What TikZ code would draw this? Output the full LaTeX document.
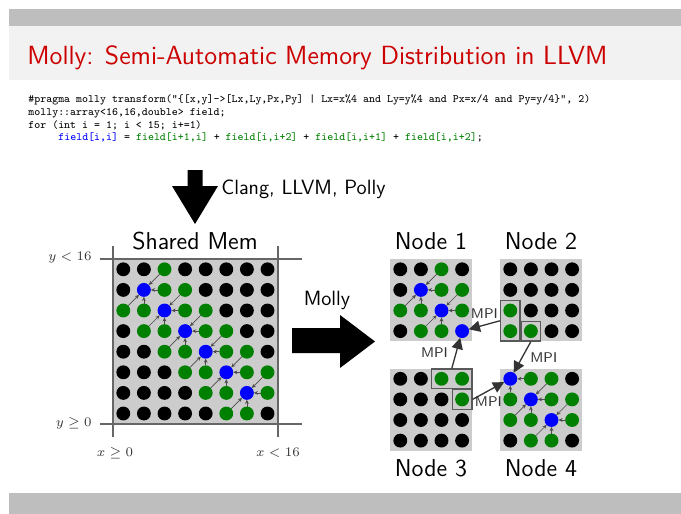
\documentclass[tikz,border=0pt]{standalone}
\usepackage{tikz}
\usetikzlibrary{arrows.meta,fit,positioning}
\definecolor{dotk}{RGB}{0,0,0}
\definecolor{dotg}{RGB}{0,128,0}
\definecolor{dotb}{RGB}{0,0,255}
\definecolor{titlered}{RGB}{204,0,0}
\definecolor{bargray}{RGB}{190,190,190}
\definecolor{bandgray}{RGB}{242,242,242}
\definecolor{cellgray}{RGB}{204,204,204}
\tikzset{
  dot/.style={circle,inner sep=0pt,outer sep=0pt,minimum size=7.4pt},
  stencil/.style={-{Stealth[length=2.2pt,width=2pt]},black!70,line width=0.35pt},
  axis/.style={black!60,line width=0.8pt},
  axlabel/.style={font=\fontsize{7.5}{9}\selectfont,text=black!80,inner sep=0pt},
  mpibox/.style={draw=black!65,line width=0.7pt,inner sep=1.5pt},
  mpi/.style={-{Triangle[length=6pt,width=6pt]},black!80,line width=0.7pt},
  mpilabel/.style={font=\sffamily\fontsize{7.5}{8}\selectfont,text=black!80,inner sep=1pt},
  nodelabel/.style={font=\sffamily\fontsize{13}{15}\selectfont},
  codeline/.style={font=\ttfamily\fontsize{6}{7}\selectfont,anchor=base west,inner sep=0pt},
}

\begin{document}
\begin{tikzpicture}[x=0.533pt,y=-0.533pt]
\useasboundingbox (0,0) rectangle (681,514);
\fill[bargray] (9,9) rectangle (681,26);
\fill[bandgray] (9,26) rectangle (681,80);
\fill[bargray] (9,493) rectangle (681,514);
\node[anchor=base west,inner sep=0pt,text=titlered,font=\sffamily\fontsize{14}{16}\selectfont] (title) at (27,65) {Molly: Semi-Automatic Memory Distribution in LLVM};

\node[codeline] (code1) at (28,102.5) {\#pragma molly transform("\{[x,y]->[Lx,Ly,Px,Py] | Lx=x\%4 and Ly=y\%4 and Px=x/4 and Py=y/4\}", 2)};
\node[codeline] (code2) at (28,115.5) {molly::array<16,16,double> field;};
\node[codeline] (code3) at (28,128) {for (int i = 1; i < 15; i+=1)};
\node[codeline] (code4) at (58,140.5) {\textcolor{dotb}{field[i,i]} = \textcolor{dotg}{field[i+1,i]} + \textcolor{dotg}{field[i,i+2]} + \textcolor{dotg}{field[i,i+1]} + \textcolor{dotg}{field[i,i+2]};};

\fill (187.5,170) -- (202.5,170) -- (202.5,186) -- (218,186) -- (195,224) -- (172,186) -- (187.5,186) -- cycle;
\node[anchor=west,font=\sffamily\fontsize{11}{13}\selectfont,inner sep=0pt] (clang) at (221,189) {Clang, LLVM, Polly};

\fill[cellgray] (113,259) rectangle (277.8,423.8);
\draw[axis] (100,259) -- (302,259);
\draw[axis] (100,423.8) -- (302,423.8);
\draw[axis] (113,246) -- (113,437);
\draw[axis] (277.8,246) -- (277.8,437);
\node[axlabel,anchor=east] (ymax) at (92,258) {$y<16$};
\node[axlabel,anchor=east] (ymin) at (92,423) {$y\geq 0$};
\node[axlabel] (xmin) at (115,453) {$x\geq 0$};
\node[axlabel] (xmax) at (278,453) {$x<16$};
\node[nodelabel] (shared) at (195,241) {Shared Mem};

\foreach \row [count=\r from 0] in {{k,k,g,k,k,k,k,k},{k,b,g,g,k,k,k,k},{g,g,b,g,g,k,k,k},{k,g,g,b,g,g,k,k},{k,k,g,g,b,g,g,k},{k,k,k,g,g,b,g,g},{k,k,k,k,g,g,b,g},{k,k,k,k,k,g,g,k}}
  \foreach \clr [count=\c from 0] in \row
    \node[dot,fill=dot\clr] (s-\r-\c) at (123.3+20.6*\c,269.3+20.6*\r) {};
\foreach \k [evaluate=\k as \kp using int(\k+1), evaluate=\k as \km using int(\k-1)] in {1,...,6} {
  \draw[stencil] (s-\k-\kp) -- (s-\k-\k);
  \draw[stencil] (s-\kp-\k) -- (s-\k-\k);
  \draw[stencil] (s-\km-\kp) -- (s-\k-\k);
  \draw[stencil] (s-\kp-\km) -- (s-\k-\k);
}

\fill (292,328) -- (340,328) -- (340,315) -- (375,341.5) -- (340,368) -- (340,353) -- (292,353) -- cycle;
\node[font=\sffamily\fontsize{11}{13}\selectfont] (molly) at (327,300) {Molly};

\foreach \n/\ox/\oy/\rows in {
  1/390/259/{{k,k,g,k},{k,b,g,g},{g,g,b,g},{k,g,g,b}},
  2/500/259/{{k,k,k,k},{k,k,k,k},{g,k,k,k},{g,g,k,k}},
  3/390/368.5/{{k,k,g,g},{k,k,k,g},{k,k,k,k},{k,k,k,k}},
  4/500/368.5/{{b,g,g,k},{g,b,g,g},{g,g,b,g},{k,g,g,k}}} {
  \fill[cellgray] (\ox,\oy) rectangle ++(82.4,82.4);
  \foreach \row [count=\r from 0] in \rows
    \foreach \clr [count=\c from 0] in \row
      \node[dot,fill=dot\clr] (n\n-\r-\c) at (\ox+10.3+20.6*\c,\oy+10.3+20.6*\r) {};
}
\node[nodelabel] (node1) at (431,241) {Node 1};
\node[nodelabel] (node2) at (541,241) {Node 2};
\node[nodelabel] (node3) at (431,468) {Node 3};
\node[nodelabel] (node4) at (541,468) {Node 4};

\foreach \k/\kp/\km in {1/2/0,2/3/1} {
  \draw[stencil] (n1-\k-\kp) -- (n1-\k-\k);
  \draw[stencil] (n1-\kp-\k) -- (n1-\k-\k);
  \draw[stencil] (n1-\km-\kp) -- (n1-\k-\k);
  \draw[stencil] (n1-\kp-\km) -- (n1-\k-\k);
}
\draw[stencil] (n4-0-1) -- (n4-0-0);
\draw[stencil] (n4-1-0) -- (n4-0-0);
\foreach \k/\kp/\km in {1/2/0,2/3/1} {
  \draw[stencil] (n4-\k-\kp) -- (n4-\k-\k);
  \draw[stencil] (n4-\kp-\k) -- (n4-\k-\k);
  \draw[stencil] (n4-\km-\kp) -- (n4-\k-\k);
  \draw[stencil] (n4-\kp-\km) -- (n4-\k-\k);
}

\node[mpibox,fit=(n2-2-0)(n2-3-0)] (sendA) {};
\node[mpibox,fit=(n2-3-1)] (sendC) {};
\node[mpibox,fit=(n3-0-2)(n3-0-3)] (sendB) {};
\node[mpibox,fit=(n3-1-3)] (sendD) {};
\draw[mpi] (sendA.west) -- node[mpilabel,above=2pt] {MPI} (n1-3-3);
\draw[mpi] (sendB.north) -- node[mpilabel,left=3pt] {MPI} (n1-3-3);
\draw[mpi] (sendC.south) -- node[mpilabel,right=3pt] {MPI} (n4-0-0);
\draw[mpi] (sendD.east) -- node[mpilabel,below=2pt] {MPI} (n4-0-0);
\end{tikzpicture}
\end{document}
